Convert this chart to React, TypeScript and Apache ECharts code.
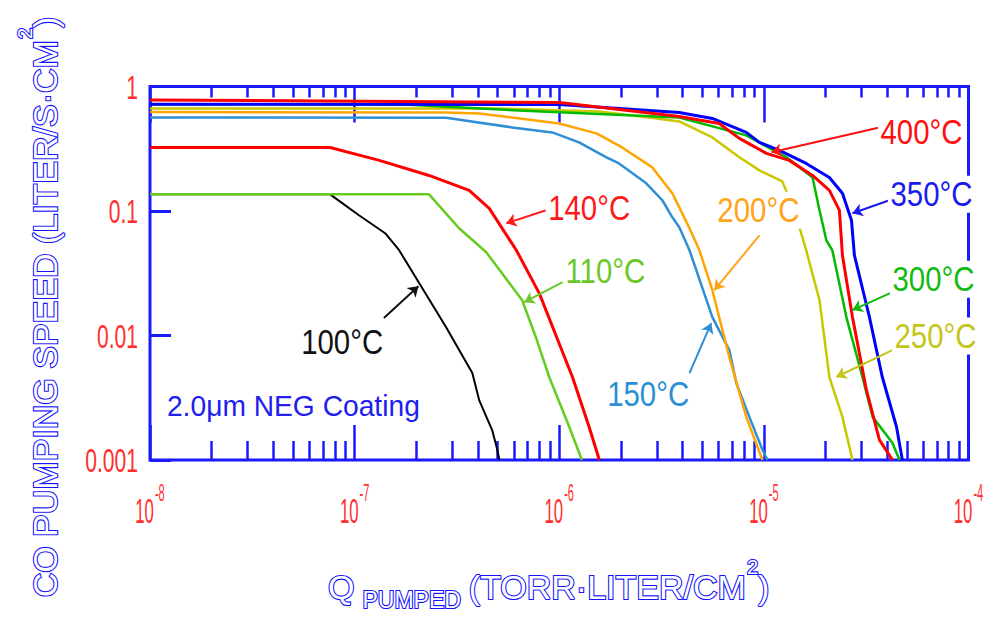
import React, { useEffect, useRef } from "react";
import * as echarts from "echarts";

// ---- data (Q pumped [Torr·L/cm²], speed [L/s·cm²]) ----
const q100 = [1e-8, 7.59e-8, 1.05e-7, 1.41e-7, 1.65e-7, 2.07e-7, 2.8e-7, 3.76e-7, 4.06e-7, 4.7e-7, 4.98e-7, 5.1e-7];
const s100 = [0.136, 0.136, 0.0924, 0.0663, 0.0484, 0.0263, 0.01167, 0.005, 0.00303, 0.00174, 0.00121, 0.001];

const q110 = [1e-8, 2.31e-7, 3.24e-7, 4.4e-7, 6.59e-7, 7.7e-7, 8.93e-7, 1.12e-6, 1.29e-6];
const s110 = [0.136, 0.136, 0.0727, 0.0466, 0.0192, 0.0096, 0.00464, 0.00184, 0.001];

const q140 = [1e-8, 7.59e-8, 1.32e-7, 2.31e-7, 3.63e-7, 4.55e-7, 6.17e-7, 7.98e-7, 1.16e-6, 1.4e-6, 1.57e-6];
const s140 = [0.324, 0.324, 0.255, 0.193, 0.1466, 0.105, 0.0484, 0.0219, 0.00464, 0.00184, 0.001];

const q150 = [1e-8, 2.8e-7, 5.89e-7, 9.25e-7, 1.25e-6, 1.7e-6, 1.96e-6, 2.66e-6, 3.19e-6, 3.57e-6, 3.86e-6, 4.33e-6, 5.6e-6, 6.78e-6, 7.33e-6, 8.49e-6, 9.84e-6, 1.04e-5];
const s150 = [0.564, 0.56, 0.469, 0.428, 0.356, 0.27, 0.241, 0.167, 0.122, 0.089, 0.074, 0.0484, 0.01405, 0.00764, 0.00415, 0.00222, 0.00121, 0.001];

const q200 = [1e-8, 2.8e-7, 4.06e-7, 1e-6, 1.52e-6, 2.03e-6, 2.85e-6, 3.57e-6, 3.86e-6, 4.33e-6, 4.84e-6, 5.6e-6, 6.78e-6, 8.2e-6, 9.84e-6];
const s200 = [0.625, 0.618, 0.607, 0.505, 0.42, 0.324, 0.224, 0.1387, 0.107, 0.0727, 0.0484, 0.0231, 0.00671, 0.00222, 0.001];

const q250 = [1e-8, 5.1e-7, 1.57e-6, 2.75e-6, 3.86e-6, 5.6e-6, 7.59e-6, 9.51e-6, 1.23e-5, 1.41e-5, 1.61e-5, 1.87e-5, 2.09e-5, 2.42e-5, 2.71e-5];
const s250 = [0.667, 0.667, 0.63, 0.564, 0.524, 0.39, 0.27, 0.212, 0.173, 0.1013, 0.0484, 0.0192, 0.00464, 0.00222, 0.001];

const q300 = [1e-8, 1.65e-7, 6.37e-7, 3.86e-6, 8.2e-6, 1.29e-5, 1.73e-5, 1.87e-5, 2.02e-5, 2.16e-5, 2.53e-5, 3.03e-5, 3.4e-5, 4.25e-5, 4.6e-5];
const s300 = [0.72, 0.72, 0.642, 0.564, 0.405, 0.27, 0.186, 0.1013, 0.0582, 0.0484, 0.01405, 0.00464, 0.00222, 0.00137, 0.001];

const q350 = [1e-8, 1e-6, 3.86e-6, 5.6e-6, 8.2e-6, 9.51e-6, 1.19e-5, 1.61e-5, 2.09e-5, 2.42e-5, 2.68e-5, 2.77e-5, 3.28e-5, 3.79e-5, 4.45e-5, 4.75e-5];
const s350 = [0.72, 0.717, 0.619, 0.554, 0.428, 0.356, 0.307, 0.241, 0.186, 0.1387, 0.0842, 0.0441, 0.01405, 0.00464, 0.00184, 0.001];

const q400 = [1e-8, 1e-6, 3.86e-6, 6.05e-6, 7.59e-6, 1.03e-5, 1.33e-5, 1.73e-5, 2.09e-5, 2.34e-5, 2.42e-5, 2.71e-5, 3.17e-5, 3.67e-5, 4.25e-5];
const s400 = [0.78, 0.744, 0.575, 0.505, 0.383, 0.29, 0.255, 0.193, 0.1466, 0.1013, 0.0441, 0.01405, 0.00365, 0.00145, 0.001];

const seriesNames = ["100°C", "110°C", "140°C", "150°C", "200°C", "250°C", "300°C", "350°C", "400°C"];
const seriesQ = [q100, q110, q140, q150, q200, q250, q300, q350, q400];
const seriesS = [s100, s110, s140, s150, s200, s250, s300, s350, s400];
const seriesColors = ["#000000", "#66cc22", "#ff0000", "#2f8fd5", "#ffa500", "#c8c800", "#00bb00", "#0000ff", "#ff0000"];
const seriesWidths = [2, 2.5, 3, 2.5, 2.5, 2.5, 2.5, 3, 3];

// tick labels
const yTickValues = [0.001, 0.01, 0.1, 1];
const yTickLabels = ["0.001", "0.01", "0.1", "1"];
const xTickValues = [1e-8, 1e-7, 1e-6, 1e-5, 1e-4];
const xTickExponents = ["-8", "-7", "-6", "-5", "-4"];
const minorMultipliers = [2, 3, 4, 5, 6, 7, 8, 9];

// annotations: label position, arrow start, arrow tip (data coords)
const annLabels = ["400°C", "350°C", "300°C", "250°C", "200°C", "150°C", "140°C", "110°C", "100°C"];
const annColors = ["#ff1010", "#1a1aee", "#12bb12", "#c4c41a", "#ffa31a", "#2a8fd4", "#ff1a1a", "#6ac82a", "#111111"];
const annAt = [[5.89e-5, 0.428], [6.59e-5, 0.136], [6.74e-5, 0.0283], [6.9e-5, 0.00989], [9.4e-6, 0.1013], [2.72e-6, 0.00339], [1.4e-6, 0.105], [1.68e-6, 0.0328], [8.69e-8, 0.00885]];
const annFrom = [[3.67e-5, 0.469], [4.11e-5, 0.122], [4.25e-5, 0.0223], [4.25e-5, 0.00764], [9.51e-6, 0.0638], [4.33e-6, 0.00499], [8.63e-7, 0.1013], [1.04e-6, 0.0268], [1.39e-7, 0.0138]];
const annTo = [[1.09e-5, 0.296], [2.71e-5, 0.0959], [2.71e-5, 0.016], [2.26e-5, 0.00464], [5.73e-6, 0.0231], [5.53e-6, 0.01257], [5.51e-7, 0.0797], [6.75e-7, 0.01853], [2.05e-7, 0.0249]];
const noteText = "2.0μm NEG Coating";
const noteAt = [1.21e-8, 0.00272];

const BLUE = "#1a1aff";
const LABEL_RED = "#ff3030";
const SANS = '"Liberation Sans", Arial, sans-serif';

export default function App() {
  const ref = useRef<HTMLDivElement>(null);
  useEffect(() => {
    if (!ref.current) return;
    const chart = echarts.init(ref.current, null, { renderer: "svg" });

    const xMinor: number[] = [];
    for (let d = -8; d < -4; d++) for (const m of minorMultipliers) xMinor.push(d + Math.log10(m));

    const lineSeries = seriesNames.map((name, i) => ({
      name,
      type: "line",
      xAxisIndex: 0,
      yAxisIndex: 0,
      data: seriesQ[i].map((q, j) => [q, seriesS[i][j]]),
      showSymbol: false,
      symbol: "none",
      lineStyle: { color: seriesColors[i], width: seriesWidths[i] },
      itemStyle: { color: seriesColors[i] },
      z: 3,
    }));

    const arrowSeries = {
      type: "lines",
      coordinateSystem: "cartesian2d",
      xAxisIndex: 0,
      yAxisIndex: 0,
      symbol: ["none", "arrow"],
      symbolSize: 10,
      silent: true,
      z: 6,
      data: annLabels.map((_, i) => ({
        coords: [annFrom[i], annTo[i]],
        lineStyle: { color: annColors[i], width: 2, opacity: 1 },
      })),
    };

    const decoAxis = (position: string, len: number, custom?: number[]) => ({
      type: "value",
      position,
      min: -8,
      max: -4,
      interval: 1,
      axisLine: { show: false },
      axisLabel: { show: false },
      splitLine: { show: false },
      axisTick: {
        show: true,
        inside: true,
        length: len,
        lineStyle: { color: BLUE, width: 2.5 },
        ...(custom ? { customValues: custom } : {}),
      },
    });

    const option: any = {
      animation: false,
      backgroundColor: "#ffffff",
      grid: {
        left: 150,
        top: 86.5,
        right: 20.5,
        bottom: 160,
        show: true,
        borderColor: BLUE,
        borderWidth: 3,
        backgroundColor: "transparent",
        containLabel: false,
        outerBoundsMode: "none",
      },
      xAxis: [
        {
          type: "log",
          logBase: 10,
          position: "bottom",
          min: 1e-8,
          max: 1e-4,
          splitNumber: 4,
          axisLine: { show: false },
          splitLine: { show: false },
          axisTick: { show: true, inside: true, length: 35, lineStyle: { color: BLUE, width: 2.5 } },
          axisLabel: { show: false },
        },
        decoAxis("bottom", 19, xMinor),
        decoAxis("top", 36),
        decoAxis("top", 11, xMinor),
      ],
      yAxis: [
        {
          type: "log",
          logBase: 10,
          position: "left",
          min: 0.001,
          max: 1,
          splitNumber: 3,
          axisLine: { show: false },
          splitLine: { show: false },
          axisTick: { show: true, inside: true, length: 21, lineStyle: { color: BLUE, width: 3 } },
          axisLabel: { show: false },
        },
      ],
      series: [...lineSeries, arrowSeries],
    };

    chart.setOption(option);

    const toPx = (p: number[]) => chart.convertToPixel({ xAxisIndex: 0, yAxisIndex: 0 }, p) as number[];
    const [gx0, gy0] = toPx([1e-8, 0.001]);

    // tick labels placed at the axis' own tick positions
    const xLabelGraphics = xTickValues.map((v, i) => {
      const [px] = toPx([v, 0.001]);
      return {
        type: "text",
        x: px,
        y: gy0 + 22,
        scaleX: 0.48,
        z: 100,
        style: {
          text: "{b|10}{s|" + xTickExponents[i] + "}",
          align: "center",
          verticalAlign: "top",
          rich: {
            b: { fill: LABEL_RED, fontSize: 35, fontFamily: SANS, lineHeight: 35, padding: [11, 0, 0, 0], verticalAlign: "top" },
            s: { fill: LABEL_RED, fontSize: 23, fontFamily: SANS, lineHeight: 23, padding: [0, 0, 0, 2], verticalAlign: "top" },
          },
        },
      };
    });
    const yLabelGraphics = yTickValues.map((v, i) => {
      const [, py] = toPx([1e-8, v]);
      return {
        type: "text",
        x: gx0 - 12,
        y: py,
        scaleX: 0.62,
        z: 100,
        style: { text: yTickLabels[i], fill: LABEL_RED, fontSize: 34, fontFamily: SANS, align: "right", verticalAlign: "middle" },
      };
    });

    const annGraphics = annLabels.map((t, i) => {
      const [px, py] = toPx(annAt[i]);
      return {
        type: "text",
        x: px,
        y: py,
        scaleX: 0.84,
        z: 100,
        style: {
          text: t,
          fill: annColors[i],
          fontSize: 35,
          fontFamily: SANS,
          align: "center",
          verticalAlign: "middle",
          backgroundColor: "#ffffff",
          padding: [1, 3, 1, 3],
        },
      };
    });
    const [nx, ny] = toPx(noteAt);
    const noteGraphic = {
      type: "text",
      x: nx,
      y: ny,
      scaleX: 0.94,
      z: 100,
      style: { text: noteText, fill: "#2020ee", fontSize: 30, fontFamily: SANS, align: "left", verticalAlign: "middle" },
    };

    const hollow = { fill: "#ffffff", stroke: "#1414ff", lineWidth: 2.2, fontFamily: SANS };
    const yTitle = {
      type: "text",
      x: 27.5,
      y: 307,
      rotation: Math.PI / 2,
      z: 100,
      style: {
        text: "{m|CO PUMPING SPEED (LITER/S·CM}{s|2}{m|)}",
        align: "center",
        verticalAlign: "middle",
        rich: {
          m: { ...hollow, fontSize: 34, lineHeight: 34, padding: [17, 0, 0, 0], verticalAlign: "top" },
          s: { ...hollow, fontSize: 20, lineHeight: 20, padding: [4, 0, 0, 1], verticalAlign: "top" },
        },
      },
    };
    const xTitle = {
      type: "text",
      x: 328,
      y: 553,
      z: 100,
      style: {
        text: "{m|Q}{sub|PUMPED}{m|(TORR·LITER/CM}{s|2}{m|)}",
        align: "left",
        verticalAlign: "top",
        rich: {
          m: { ...hollow, fontSize: 34, lineHeight: 34, padding: [17, 0, 0, 0], verticalAlign: "top" },
          sub: { ...hollow, fontSize: 23, lineHeight: 23, padding: [35, 8, 0, 8], verticalAlign: "top" },
          s: { ...hollow, fontSize: 20, lineHeight: 20, padding: [4, 0, 0, 1], verticalAlign: "top" },
        },
      },
    };

    chart.setOption({ graphic: [...xLabelGraphics, ...yLabelGraphics, ...annGraphics, noteGraphic, yTitle, xTitle] });

    return () => chart.dispose();
  }, []);

  return <div ref={ref} style={{ position: "fixed", left: 0, top: 0, width: 989, height: 620 }} />;
}
